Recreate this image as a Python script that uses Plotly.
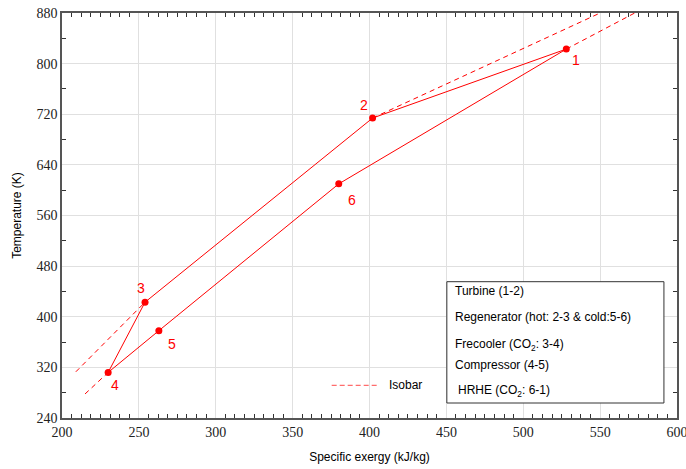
import plotly.graph_objects as go

# State points of the cycle
state_labels = ["1", "2", "3", "4", "5", "6"]
exergy = [528, 402, 254, 230, 263, 380]        # kJ/kg
temperature = [823, 714, 423, 312, 378, 610]   # K

# Isobar extensions (dashed)
low_iso_lo_x = [209, 254]
low_iso_lo_y = [313, 423]
low_iso_hi_x = [402, 550]
low_iso_hi_y = [714, 880]
high_iso_lo_x = [215, 230]
high_iso_lo_y = [278, 312]
high_iso_hi_x = [528, 572.5]
high_iso_hi_y = [823, 880]

legend_lines = [
    "Turbine (1-2)",
    "Regenerator (hot: 2-3 & cold:5-6)",
    "Frecooler (CO<sub>2</sub>: 3-4)",
    "Compressor (4-5)",
    "HRHE (CO<sub>2</sub>: 6-1)",
]

RED = "#ff0000"
fig = go.Figure()

# cycle path 1-2-3-4-5-6-1
cx = exergy + [exergy[0]]
cy = temperature + [temperature[0]]
fig.add_trace(go.Scatter(x=cx, y=cy, mode="lines",
                         line=dict(color=RED, width=1), showlegend=False, hoverinfo="skip"))

for xs, ys in [(low_iso_lo_x, low_iso_lo_y), (low_iso_hi_x, low_iso_hi_y),
               (high_iso_lo_x, high_iso_lo_y), (high_iso_hi_x, high_iso_hi_y)]:
    fig.add_trace(go.Scatter(x=xs, y=ys, mode="lines",
                             line=dict(color=RED, width=1, dash="5px,4px"),
                             showlegend=False, hoverinfo="skip", cliponaxis=False))

fig.add_trace(go.Scatter(x=exergy, y=temperature, mode="markers",
                         marker=dict(color=RED, size=7), showlegend=False))

# point labels
shifts = [(10, -11), (-9, 13), (-4, 14), (7, -13), (13, -13), (13, -16)]
for lab, xv, yv, (dx, dy) in zip(state_labels, exergy, temperature, shifts):
    fig.add_annotation(x=xv, y=yv, text=lab, showarrow=False, xshift=dx, yshift=dy,
                       font=dict(family="Liberation Sans, Arial", size=14, color=RED))

# legend box
fig.add_shape(type="rect", x0=450.3, x1=591.5, y0=263.7, y1=455.4, xref="x", yref="y",
              line=dict(color="#333333", width=1), fillcolor="white", layer="above")
legend_y = [440, 399.6, 355.8, 324.2, 283.1]
legend_x = [454.3, 454.3, 454.3, 454.3, 456.3]
for t, lx, ly in zip(legend_lines, legend_x, legend_y):
    fig.add_annotation(x=lx, y=ly, text=t, showarrow=False, xanchor="left", yanchor="middle",
                       font=dict(family="Liberation Sans, Arial", size=12, color="black"))

# isobar legend
fig.add_shape(type="line", x0=375.4, x1=405.4, y0=291.5, y1=291.5, xref="x", yref="y",
              line=dict(color="rgba(255,60,60,0.75)", width=1.2, dash="5px,3px"))
fig.add_annotation(x=411.1, y=291.5, text="Isobar", showarrow=False, xanchor="left",
                   yanchor="middle", font=dict(family="Liberation Sans, Arial", size=12, color="black"))

axis_common = dict(
    showline=True, linecolor="#555555", linewidth=1.5, mirror="allticks",
    showgrid=True, gridcolor="#e0e0e0", gridwidth=1,
    ticks="", zeroline=False, automargin=False, ticklabeloverflow="allow",
    tickfont=dict(family="Liberation Serif, Times New Roman", size=14, color="#222222"),
)

fig.update_xaxes(range=[200, 600], dtick=50, tick0=200, **axis_common,
                 minor=dict(dtick=6.25, tick0=200, ticks="inside", ticklen=4,
                            tickcolor="#333333", tickwidth=1, showgrid=False),
                 title=dict(text="Specific exergy (kJ/kg)", standoff=14,
                            font=dict(family="Liberation Sans, Arial", size=12, color="black")))
fig.update_yaxes(range=[240, 880], dtick=80, tick0=240, **axis_common,
                 minor=dict(dtick=40, tick0=240, ticks="inside", ticklen=4,
                            tickcolor="#333333", tickwidth=1, showgrid=False),
                 title=dict(text="Temperature (K)", standoff=12,
                            font=dict(family="Liberation Sans, Arial", size=12, color="black")))

fig.update_layout(
    width=686, height=469,
    margin=dict(l=62, r=9, t=13, b=51),
    plot_bgcolor="white", paper_bgcolor="white",
    showlegend=False,
)

fig.write_html("out.html", config={"displayModeBar": False},
               post_script="document.body.style.margin='0';")
